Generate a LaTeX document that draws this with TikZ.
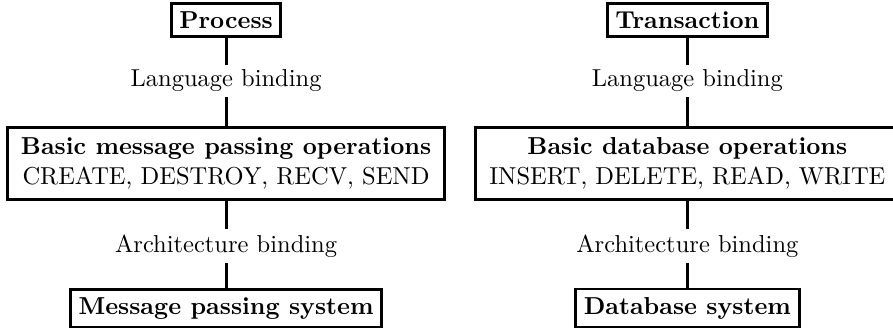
\documentclass[tikz,border=0pt]{standalone}
\usetikzlibrary{positioning}

\tikzset{
  layer/.style={draw, very thick, font=\bfseries},
  ops/.style={draw, very thick, align=center, inner xsep=5.5pt, inner ysep=4.25pt},
  binding/.style={inner sep=2pt},
  link/.style={very thick},
}

\begin{document}
\begin{tikzpicture}
 \useasboundingbox (0,0) rectangle (12.81,-4.705);

 % message passing column
 \node[layer] (p0) at (3.243,-0.283) {Process};
 \node[binding] (p1) at (3.243,-1.162) {Language binding};
 \node[ops] (p2) at (3.243,-2.346) {\textbf{Basic message passing operations}\\CREATE, DESTROY, RECV, SEND};
 \node[binding] (p3) at (3.243,-3.530) {Architecture binding};
 \node[layer] (p4) at (3.243,-4.420) {Message passing system};

 % database column
 \node[layer] (t0) at (9.86,-0.283) {Transaction};
 \node[binding] (t1) at (9.86,-1.162) {Language binding};
 \node[ops] (t2) at (9.86,-2.346) {\textbf{Basic database operations}\\INSERT, DELETE, READ, WRITE};
 \node[binding] (t3) at (9.86,-3.530) {Architecture binding};
 \node[layer] (t4) at (9.86,-4.420) {Database system};

 % connectors
 \foreach \c in {p,t} {
  \foreach \i [count=\j] in {0,...,3} {
   \draw[link] (\c\i) -- (\c\j);
  }
 }
\end{tikzpicture}
\end{document}
